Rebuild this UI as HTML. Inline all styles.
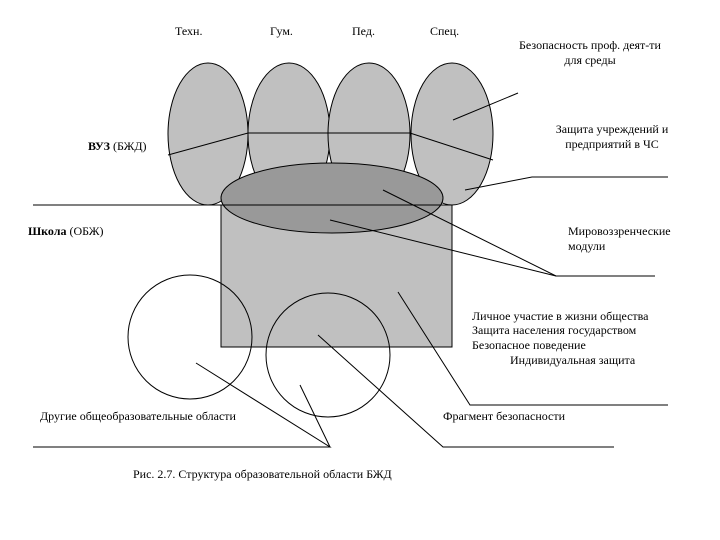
<!DOCTYPE html>
<html><head><meta charset="utf-8"><style>
html,body{margin:0;padding:0;background:#fff;}
svg{display:block;}
text{font-family:"Liberation Serif","DejaVu Serif",serif;font-size:12px;fill:#000;}
</style></head><body>
<svg width="720" height="540" viewBox="0 0 720 540" xmlns="http://www.w3.org/2000/svg">
<rect x="221" y="205" width="231" height="142" fill="#c0c0c0" stroke="#000" stroke-width="1"/>
<g fill="#c0c0c0" stroke="#000" stroke-width="1">
<ellipse cx="208" cy="134" rx="40" ry="71"/>
<ellipse cx="289" cy="134" rx="41" ry="71"/>
<ellipse cx="369" cy="134" rx="41" ry="71"/>
<ellipse cx="452" cy="134" rx="41" ry="71"/>
</g>
<ellipse cx="332" cy="198" rx="111" ry="35" fill="#999999" stroke="#000"/>
<g fill="none" stroke="#000" stroke-width="1">
<line x1="33" y1="205" x2="452" y2="205"/>
<polyline points="168,155 248,133 410,133 493,160"/>
<line x1="453" y1="120" x2="518" y2="93"/>
<polyline points="465,190 532,177 668,177"/>
<polyline points="383,190 556,276 655,276"/>
<line x1="330" y1="220" x2="556" y2="276"/>
<polyline points="398,292 470,405 668,405"/>
<circle cx="190" cy="337" r="62"/>
<circle cx="328" cy="355" r="62"/>
<polyline points="196,363 330,447 33,447"/>
<line x1="300" y1="385" x2="330" y2="447"/>
<polyline points="318,335 443,447 614,447"/>
</g>
<text x="175" y="35">Техн.</text>
<text x="270" y="35">Гум.</text>
<text x="352" y="35">Пед.</text>
<text x="430" y="35">Спец.</text>
<text x="590" y="49" text-anchor="middle">Безопасность проф. деят-ти</text>
<text x="590" y="64" text-anchor="middle">для среды</text>
<text x="612" y="133" text-anchor="middle">Защита учреждений и</text>
<text x="612" y="148" text-anchor="middle">предприятий в ЧС</text>
<text x="88" y="150"><tspan font-weight="bold">ВУЗ</tspan> (БЖД)</text>
<text x="28" y="235"><tspan font-weight="bold">Школа</tspan> (ОБЖ)</text>
<text x="568" y="235">Мировоззренческие</text>
<text x="568" y="250">модули</text>
<text x="472" y="320">Личное участие в жизни общества</text>
<text x="472" y="334">Защита населения государством</text>
<text x="472" y="349">Безопасное поведение</text>
<text x="510" y="364">Индивидуальная защита</text>
<text x="40" y="420">Другие общеобразовательные области</text>
<text x="443" y="420">Фрагмент безопасности</text>
<text x="133" y="478">Рис. 2.7. Структура образовательной области БЖД</text>
</svg>
</body></html>
